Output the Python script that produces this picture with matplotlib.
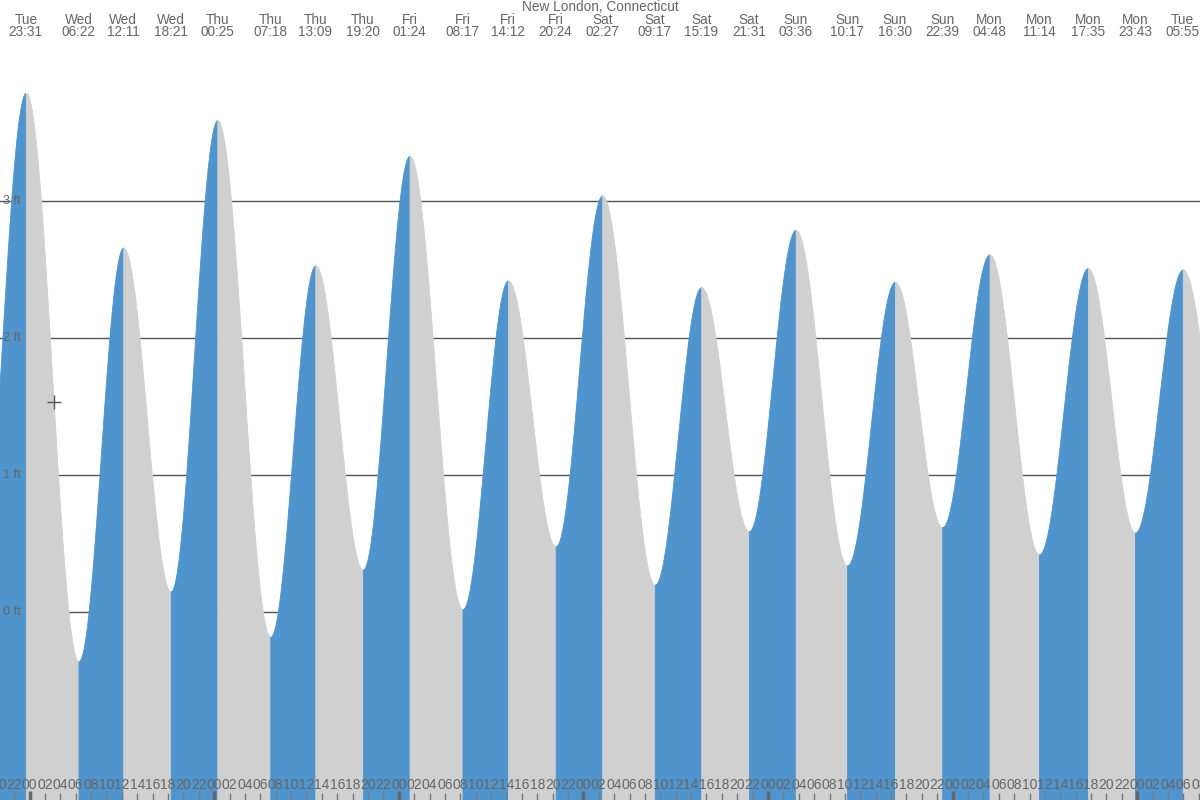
import numpy as np
import matplotlib
matplotlib.use("Agg")
import matplotlib.pyplot as plt

plt.rcParams['font.family'] = ['Liberation Sans', 'DejaVu Sans']

# ---------------- data ----------------
title = "New London, Connecticut"
# tide extremes: day offset (0 = Wed), clock time, height in ft
ext_days = ["Tue", "Tue", "Wed", "Wed", "Wed", "Thu", "Thu", "Thu", "Thu",
            "Fri", "Fri", "Fri", "Fri", "Sat", "Sat", "Sat", "Sat",
            "Sun", "Sun", "Sun", "Sun", "Mon", "Mon", "Mon", "Mon", "Tue", "Tue"]
ext_offsets = [-1, -1, 0, 0, 0, 1, 1, 1, 1, 2, 2, 2, 2, 3, 3, 3, 3,
               4, 4, 4, 4, 5, 5, 5, 5, 6, 6]
ext_times = ["17:15", "23:31", "06:22", "12:11", "18:21", "00:25", "07:18", "13:09", "19:20",
             "01:24", "08:17", "14:12", "20:24", "02:27", "09:17", "15:19", "21:31",
             "03:36", "10:17", "16:30", "22:39", "04:48", "11:14", "17:35", "23:43",
             "05:55", "12:10"]
ext_heights = [0.05, 3.79, -0.36, 2.66, 0.15, 3.59, -0.18, 2.53, 0.31,
               3.33, 0.02, 2.42, 0.48, 3.04, 0.20, 2.37, 0.59,
               2.79, 0.34, 2.41, 0.62, 2.61, 0.42, 2.51, 0.58,
               2.50, 0.70]
ext_labelled = [False] + [True] * 25 + [False]

y_ticks = [0, 1, 2, 3]
hour_ticks = list(range(-4, 153, 2))   # hours relative to Wed 00:00
cursor_point = (3.19, 1.53)

# ---------------- layout / style ----------------
BLUE = "#4f94cd"
GRAY = "#d0d0d0"
TXT = "#666666"
t_min, t_max = -3.84, 152.16
y_min, y_max = -1.372, 4.467

def to_hours(off, hm):
    h, m = hm.split(":")
    return off * 24 + int(h) + int(m) / 60.0

ext_t = np.array([to_hours(o, s) for o, s in zip(ext_offsets, ext_times)])
ext_h = np.array(ext_heights)

fig = plt.figure(figsize=(12, 8), dpi=100)
ax = fig.add_axes([0, 0, 1, 1])
ax.set_xlim(t_min, t_max)
ax.set_ylim(y_min, y_max)
ax.axis("off")

# gridlines behind the fill
for yv in y_ticks:
    ax.axhline(yv, color="#555555", lw=1, zorder=1)
    ax.text(t_min + 0.35, yv, f"{yv} ft", color=TXT, fontsize=9,
            ha="left", va="center", zorder=5)

# curve segments between extremes (cosine shape)
for i in range(len(ext_t) - 1):
    t0, t1 = ext_t[i], ext_t[i + 1]
    h0, h1 = ext_h[i], ext_h[i + 1]
    tt = np.linspace(t0, t1, 200)
    hh = h0 + (h1 - h0) * (1 - np.cos(np.pi * (tt - t0) / (t1 - t0))) / 2
    col = BLUE if h1 > h0 else GRAY
    ax.fill_between(tt, y_min, hh, color=col, lw=0.6, edgecolor=col, zorder=2)

# top labels of extremes
for d, s, t, lab in zip(ext_days, ext_times, ext_t, ext_labelled):
    if not lab:
        continue
    ax.text(t, 0.9755, d, transform=ax.get_xaxis_transform(), ha="center",
            va="center", fontsize=9.8, color=TXT, zorder=5)
    ax.text(t, 0.9595, s, transform=ax.get_xaxis_transform(), ha="center",
            va="center", fontsize=9.8, color=TXT, zorder=5)
fig.text(0.5, 0.991, title, ha="center", va="center", fontsize=9.8, color=TXT)

# bottom hour labels and ticks
for h in hour_ticks:
    lab = f"{h % 24:02d}"
    ax.text(h, 0.0185, lab, transform=ax.get_xaxis_transform(), ha="center",
            va="center", fontsize=10, color=TXT, zorder=5)
    if h % 24 == 0:
        ax.plot([h, h], [0, 0.011], transform=ax.get_xaxis_transform(),
                color="#666666", lw=2.5, solid_capstyle="butt", zorder=5)
    else:
        ax.plot([h, h], [0, 0.009], transform=ax.get_xaxis_transform(),
                color="#777777", lw=1, solid_capstyle="butt", zorder=5)

# cursor cross
ax.plot([cursor_point[0]], [cursor_point[1]], marker="+", ms=10, mew=1,
        color="#555555", zorder=6)

fig.savefig("out.png", dpi=100)
